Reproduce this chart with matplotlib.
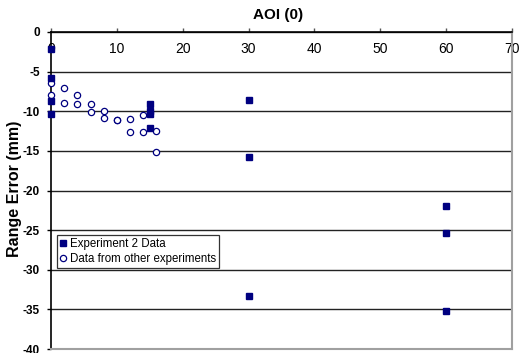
import matplotlib
matplotlib.use("Agg")
import matplotlib.pyplot as plt

plt.rcParams['font.family'] = ['Liberation Sans', 'DejaVu Sans']

# Experiment 2 data
exp2_aoi = [0, 0, 0, 0, 15, 15, 15, 15, 30, 30, 30, 60, 60, 60]
exp2_err = [-2.1, -5.8, -8.7, -10.4, -9.05, -10.0, -10.4, -12.1, -8.6, -15.8, -33.3, -21.9, -25.3, -35.2]

# Data from other experiments
oth_aoi = [0, 0, 2, 2, 4, 4, 6, 6, 8, 8, 10, 10, 12, 12, 14, 14, 16, 16]
oth_err = [-6.4, -7.95, -7.1, -8.95, -7.95, -9.1, -9.05, -10.05, -9.95, -10.85,
           -11.05, -11.15, -11.0, -12.6, -10.5, -12.6, -12.5, -15.1]

xticks = [0, 10, 20, 30, 40, 50, 60, 70]
yticks = [0, -5, -10, -15, -20, -25, -30, -35, -40]

navy = '#000080'

fig = plt.figure(figsize=(5.19, 3.53), dpi=100)
ax = fig.add_axes([51/519, 1-349/353, 461/519, 317/353])

ax.plot(exp2_aoi, exp2_err, linestyle='none', marker='s', markersize=4.5,
        color=navy, markeredgecolor=navy, label='Experiment 2 Data', clip_on=False, zorder=4)
ax.plot(oth_aoi, oth_err, linestyle='none', marker='o', markersize=4.5,
        markerfacecolor='white', markeredgecolor=navy, markeredgewidth=0.9,
        label='Data from other experiments', clip_on=False, zorder=3)

ax.set_xlim(0, 70)
ax.set_ylim(-40, 0)
ax.set_xticks(xticks)
ax.set_yticks(yticks)
ax.set_xticklabels([str(t) for t in xticks], fontweight='bold', fontsize=8.5)
ax.set_yticklabels([str(t) for t in yticks], fontweight='bold', fontsize=8.5)

# x axis at the top (y=0) with labels underneath, ticks pointing up
ax.spines['bottom'].set_position(('axes', 1))
ax.spines['top'].set_position(('axes', 0))
ax.spines['bottom'].set_color('black')
ax.spines['bottom'].set_linewidth(1.2)
ax.spines['top'].set_color('#a0a0a0')
ax.spines['top'].set_linewidth(1.5)
ax.spines['right'].set_color('#a0a0a0')
ax.spines['right'].set_linewidth(1.5)
ax.spines['left'].set_color('black')
ax.spines['left'].set_linewidth(1.2)
ax.tick_params(axis='x', direction='in', length=3, pad=7, width=1, color='#555555')
ax.tick_params(axis='y', direction='out', length=3, pad=5, width=1)

ax.yaxis.grid(True, color='#222222', linewidth=1)
ax.set_axisbelow(True)

fig.text(278/519, 1-15/353, 'AOI (0)', ha='center', va='center', fontweight='bold', fontsize=11)
fig.text(15/519, 1-189/353, 'Range Error (mm)', ha='center', va='center', rotation=90,
         fontweight='bold', fontsize=11.5)

leg = ax.legend(loc='lower left', bbox_to_anchor=(0.013, 0.256), fontsize=8.3,
                frameon=True, fancybox=False, borderaxespad=0, handlelength=0.6,
                handletextpad=0.3, borderpad=0.25, labelspacing=0.25)
leg.get_frame().set_edgecolor('black')
leg.get_frame().set_linewidth(0.9)

fig.savefig('out.png', dpi=100)
